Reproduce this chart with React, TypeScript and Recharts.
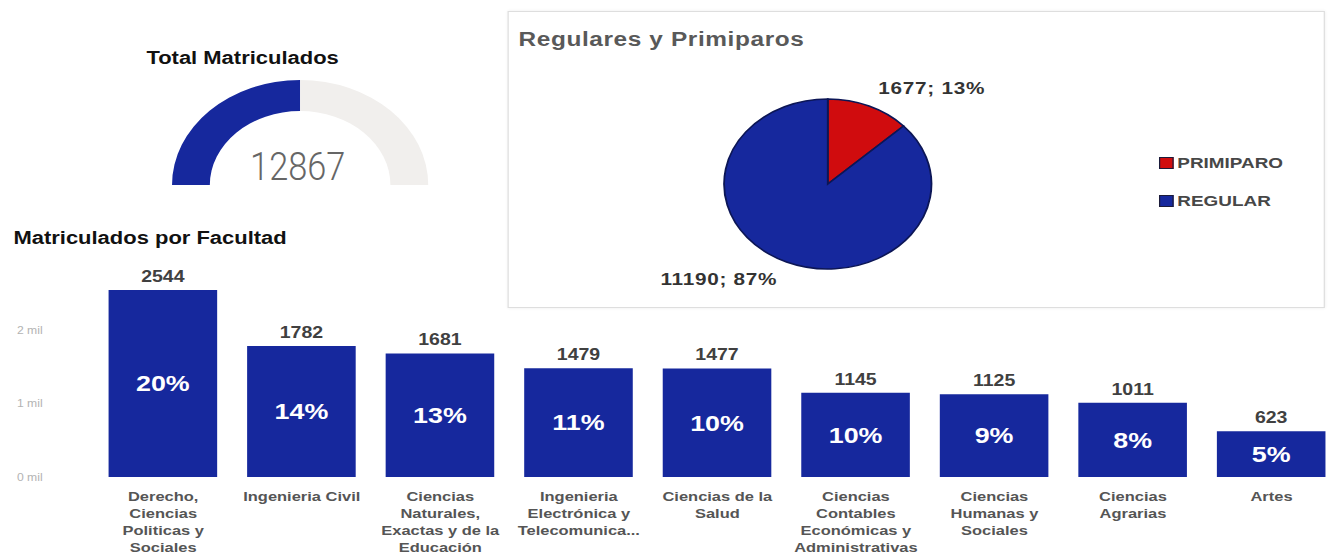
import React from 'react';
import {
  BarChart,
  Bar,
  XAxis,
  YAxis,
  LabelList,
  PieChart,
  Pie,
  Cell,
  Legend,
} from 'recharts';

// gauge
const totalMatriculados = 12867;
const gaugeMax = 25734;

// regulares vs primiparos
const tipos = ['PRIMIPARO', 'REGULAR'];
const tipoValores = [1677, 11190];
const tipoColores = ['#d00c0e', '#16289d'];

// matriculados por facultad
const facultades = [
  'Derecho,\nCiencias\nPoliticas y\nSociales',
  'Ingenieria Civil',
  'Ciencias\nNaturales,\nExactas y de la\nEducación',
  'Ingenieria\nElectrónica y\nTelecomunica...',
  'Ciencias de la\nSalud',
  'Ciencias\nContables\nEconómicas y\nAdministrativas',
  'Ciencias\nHumanas y\nSociales',
  'Ciencias\nAgrarias',
  'Artes',
];
const matriculados = [2544, 1782, 1681, 1479, 1477, 1145, 1125, 1011, 623];
const porcentajes = [20, 14, 13, 11, 10, 10, 9, 8, 5];
const yTicks = [0, 1000, 2000];

const BLUE = '#16289d';
const FONT = '"Liberation Sans", Arial, sans-serif';
const STRETCH = 1.22;

const gaugeData = [
  { name: 'valor', value: totalMatriculados },
  { name: 'resto', value: gaugeMax - totalMatriculados },
];
const tipoData = tipos.map((t, i) => ({ name: t, value: tipoValores[i] }));
const barData = facultades.map((f, i) => ({ name: f, value: matriculados[i], pct: porcentajes[i] }));

const RADIAN = Math.PI / 180;

function PieLabel({ cx, cy, midAngle, outerRadius, value, percent }: any) {
  const r = outerRadius + 19;
  const x = cx + r * Math.cos(-midAngle * RADIAN);
  const y = cy + r * Math.sin(-midAngle * RADIAN);
  return (
    <text
      x={x}
      y={y}
      textAnchor={x > cx ? 'start' : 'end'}
      dominantBaseline="central"
      fontFamily={FONT}
      fontWeight="bold"
      fontSize={17}
      letterSpacing={0.6}
      fill="#333"
    >
      {`${value}; ${Math.round(percent * 100)}%`}
    </text>
  );
}

function FacultadTick({ x, y, payload }: any) {
  const lines = String(payload.value).split('\n');
  return (
    <text x={x} y={y + 24} textAnchor="middle" fontFamily={FONT} fontWeight="bold" fontSize={13.5} fill="#555">
      {lines.map((l, i) => (
        <tspan key={i} x={x} dy={i === 0 ? 0 : 17}>
          {l}
        </tspan>
      ))}
    </text>
  );
}

function TipoLegend() {
  return (
    <div style={{ fontFamily: FONT }}>
      {tipos.map((t, i) => (
        <div key={t} style={{ display: 'flex', alignItems: 'center', height: 38 }}>
          <span
            style={{
              width: 10,
              height: 10,
              background: tipoColores[i],
              border: '1.5px solid #1b1b3a',
              marginRight: 3,
            }}
          />
          <span style={{ fontWeight: 'bold', fontSize: 15.5, color: '#474747' }}>{t}</span>
        </div>
      ))}
    </div>
  );
}

export default function App() {
  return (
    <div
      style={{
        position: 'absolute',
        left: 0,
        top: 0,
        width: 1329,
        height: 556,
        overflow: 'hidden',
        background: '#fff',
        fontFamily: FONT,
      }}
    >
      <div
        style={{
          position: 'relative',
          width: 1100,
          height: 556,
          transform: `scaleX(${STRETCH})`,
          transformOrigin: '0 0',
        }}
      >
        {/* Matriculados por Facultad */}
        <div
          style={{
            position: 'absolute',
            left: 11,
            top: 228,
            fontWeight: 'bold',
            fontSize: 18,
            lineHeight: '20px',
            color: '#111',
          }}
        >
          Matriculados por Facultad
        </div>
        <div style={{ position: 'absolute', left: 0, top: 250 }}>
          <BarChart
            width={1100}
            height={306}
            data={barData}
            margin={{ top: 6.5, right: 1, left: 0, bottom: 0 }}
          >
            <XAxis
              dataKey="name"
              interval={0}
              axisLine={false}
              tickLine={false}
              tickSize={0}
              tickMargin={0}
              height={79}
              tick={<FacultadTick />}
            />
            <YAxis
              width={77}
              domain={[0, 3000]}
              ticks={yTicks}
              axisLine={false}
              tickLine={false}
              tickSize={0}
              tickMargin={42}
              tickFormatter={(v: number) => `${v / 1000} mil`}
              tick={{ fontSize: 10, fill: '#b3b3b3', fontFamily: FONT }}
            />
            <Bar dataKey="value" fill={BLUE} barSize={89} isAnimationActive={false}>
              <LabelList
                dataKey="value"
                position="top"
                offset={8}
                fill="#404040"
                fontWeight="bold"
                fontSize={16}
                fontFamily={FONT}
              />
              <LabelList
                dataKey="pct"
                position="center"
                formatter={(v: any) => `${v}%`}
                fill="#fff"
                fontWeight="bold"
                fontSize={22}
                fontFamily={FONT}
              />
            </Bar>
          </BarChart>
        </div>

        {/* Total Matriculados gauge */}
        <div
          style={{
            position: 'absolute',
            left: 120,
            top: 48,
            fontWeight: 'bold',
            fontSize: 18,
            lineHeight: '20px',
            color: '#111',
          }}
        >
          Total Matriculados
        </div>
        <div style={{ position: 'absolute', left: 96, top: 0 }}>
          <PieChart width={300} height={200}>
            <Pie
              data={gaugeData}
              dataKey="value"
              cx={145}
              cy={180}
              startAngle={180}
              endAngle={0}
              innerRadius={74}
              outerRadius={105}
              stroke="none"
              isAnimationActive={false}
            >
              <Cell fill={BLUE} />
              <Cell fill="#f1efed" />
            </Pie>
            <text
              x={148}
              y={180}
              textAnchor="middle"
              fontFamily="Roboto, sans-serif"
              fontWeight={300}
              fontSize={39}
              fill="#666"
              textLength={78}
              lengthAdjust="spacingAndGlyphs"
            >
              {totalMatriculados}
            </text>
          </PieChart>
        </div>

        {/* Regulares y Primiparos */}
        <div
          style={{
            position: 'absolute',
            left: 416,
            top: 11,
            width: 668,
            height: 295,
            border: '1px solid #dedede',
            boxShadow: '0 0 3px rgba(0,0,0,0.08)',
            background: '#fff',
            zIndex: 2,
          }}
        >
          <div
            style={{
              position: 'absolute',
              left: 8,
              top: 17,
              fontWeight: 'bold',
              fontSize: 20,
              letterSpacing: 0.5,
              lineHeight: '20px',
              color: '#595959',
            }}
          >
            Regulares y Primiparos
          </div>
          <PieChart width={668} height={295}>
            <Pie
              data={tipoData}
              dataKey="value"
              cx={256.5}
              cy={167}
              startAngle={90}
              endAngle={-270}
              outerRadius={85}
              stroke="#0c1656"
              strokeWidth={1.5}
              labelLine={false}
              label={PieLabel}
              isAnimationActive={false}
            >
              {tipoData.map((d, i) => (
                <Cell key={d.name} fill={tipoColores[i]} />
              ))}
            </Pie>
            <Legend
              content={() => <TipoLegend />}
              wrapperStyle={{ position: 'absolute', left: 533, top: 132, width: 130 }}
            />
          </PieChart>
        </div>
      </div>
    </div>
  );
}
